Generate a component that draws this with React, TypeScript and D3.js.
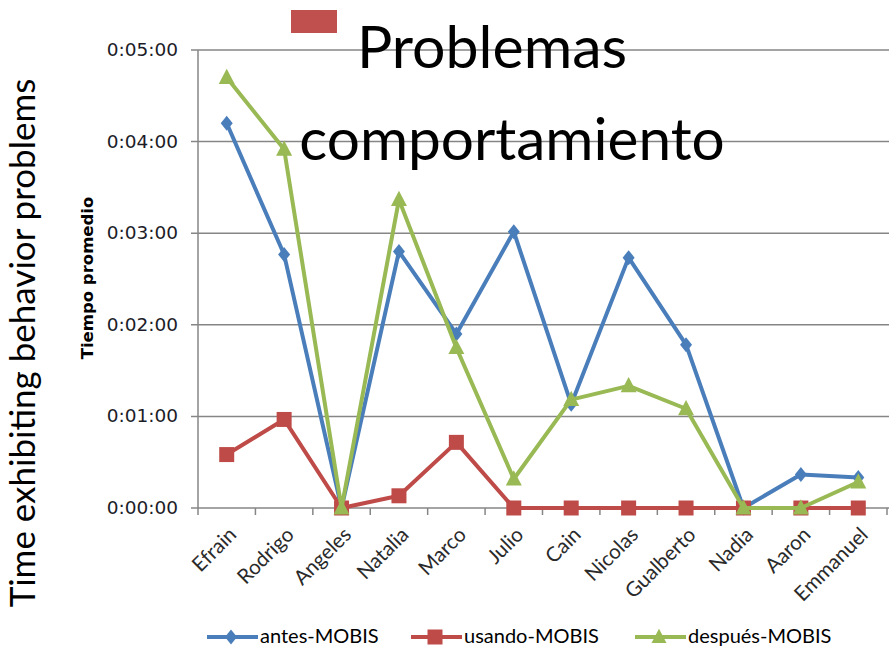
import React, { useRef, useEffect } from 'react';
import * as d3 from 'd3';

const categories = ['Efrain', 'Rodrigo', 'Angeles', 'Natalia', 'Marco', 'Julio', 'Cain', 'Nicolas', 'Gualberto', 'Nadia', 'Aaron', 'Emmanuel'];

// values in seconds
const antesMobis = [252, 166, 0, 168, 114, 181, 68, 164, 107, 0, 22, 20];
const usandoMobis = [35, 58, 0, 8, 43, 0, 0, 0, 0, 0, 0, 0];
const despuesMobis = [282, 235, 0, 202, 105, 19, 71, 80, 65, 0, 0, 17];

const yTicks = [0, 60, 120, 180, 240, 300];

const series = [
  { name: 'antes-MOBIS', values: antesMobis, color: '#4a7ebb', marker: 'diamond' },
  { name: 'usando-MOBIS', values: usandoMobis, color: '#be4b48', marker: 'square' },
  { name: 'después-MOBIS', values: despuesMobis, color: '#98b954', marker: 'triangle' },
];

const W = 893;
const H = 649;

function fmtTime(s: number): string {
  const m = Math.floor(s / 60);
  const sec = s % 60;
  return `0:${String(m).padStart(2, '0')}:${String(sec).padStart(2, '0')}`;
}

function markerPath(type: string, size: number): string {
  const h = size / 2;
  if (type === 'diamond') return `M0,${-h} L${h * 0.8},0 L0,${h} L${-h * 0.8},0 Z`;
  if (type === 'square') return `M${-h},${-h} H${h} V${h} H${-h} Z`;
  return `M0,${-h * 1.1} L${h},${h * 0.8} L${-h},${h * 0.8} Z`;
}

export default function App(): React.ReactElement {
  const svgRef = useRef<SVGSVGElement>(null);

  useEffect(() => {
    if (!svgRef.current) return;
    const svg = d3.select(svgRef.current);
    svg.selectAll('*').remove();

    const left = 198;
    const right = 887;
    const top = 50;
    const bottom = 508;

    const x = d3.scaleBand<string>().domain(categories).range([left, right]);
    const y = d3.scaleLinear().domain([0, 300]).range([bottom, top]);
    const cx = (c: string) => (x(c) ?? 0) + x.bandwidth() / 2;

    const grid = '#868686';

    // gridlines + y ticks
    const yg = svg.append('g');
    yTicks.forEach((t) => {
      yg.append('line')
        .attr('x1', left - 7).attr('x2', right + 2)
        .attr('y1', y(t)).attr('y2', y(t))
        .attr('stroke', grid).attr('stroke-width', 1.5);
      yg.append('text')
        .attr('x', 178).attr('y', y(t) + 6)
        .attr('text-anchor', 'end')
        .attr('font-family', '"DejaVu Sans", Verdana, sans-serif')
        .attr('font-size', '18.5px')
        .attr('fill', '#1c1c28')
        .text(fmtTime(t));
    });

    // y axis line
    svg.append('line')
      .attr('x1', left).attr('x2', left)
      .attr('y1', top).attr('y2', bottom)
      .attr('stroke', grid).attr('stroke-width', 1.5);

    // x tick marks at band boundaries
    const bounds = categories.map((c) => x(c) ?? 0).concat([right]);
    bounds.forEach((b) => {
      svg.append('line')
        .attr('x1', b).attr('x2', b)
        .attr('y1', bottom).attr('y2', bottom + 7)
        .attr('stroke', grid).attr('stroke-width', 1.5);
    });

    // x labels rotated
    categories.forEach((c) => {
      svg.append('text')
        .attr('transform', `translate(${cx(c) + 11},${bottom + 28}) rotate(-45)`)
        .attr('text-anchor', 'end')
        .attr('font-family', 'Lato, "Open Sans", sans-serif')
        .attr('font-size', '20.5px')
        .attr('fill', '#2a2a2a')
        .text(c);
    });

    // lines and markers
    series.forEach((s) => {
      const line = d3.line<number>()
        .x((_, i) => cx(categories[i]))
        .y((d) => y(d));
      svg.append('path')
        .attr('d', line(s.values) ?? '')
        .attr('fill', 'none')
        .attr('stroke', s.color)
        .attr('stroke-width', 4)
        .attr('stroke-linejoin', 'round');
      const size = s.marker === 'triangle' ? 16 : 15;
      s.values.forEach((v, i) => {
        svg.append('path')
          .attr('transform', `translate(${cx(categories[i])},${y(v)})`)
          .attr('d', markerPath(s.marker, size))
          .attr('fill', s.color);
      });
    });

    // Tiempo promedio label
    svg.append('text')
      .attr('transform', `translate(93,278) rotate(-90)`)
      .attr('text-anchor', 'middle')
      .attr('font-family', '"DejaVu Sans", Verdana, sans-serif')
      .attr('font-size', '16.5px')
      .attr('font-weight', 'bold')
      .attr('fill', '#000')
      .text('Tiempo promedio');

    // big left label
    svg.append('text')
      .attr('transform', `translate(35,343) rotate(-90)`)
      .attr('text-anchor', 'middle')
      .attr('font-family', 'Lato, "Open Sans", sans-serif')
      .attr('font-size', '35px')
      .attr('fill', '#000')
      .text('Time exhibiting behavior problems');

    // title with red square
    svg.append('rect')
      .attr('x', 291).attr('y', 10)
      .attr('width', 46).attr('height', 23)
      .attr('fill', '#c0504d');
    svg.append('text')
      .attr('x', 492).attr('y', 68)
      .attr('text-anchor', 'middle')
      .attr('font-family', 'Lato, "Open Sans", sans-serif')
      .attr('font-size', '59px')
      .attr('fill', '#000')
      .text('Problemas');
    svg.append('text')
      .attr('x', 512).attr('y', 160)
      .attr('text-anchor', 'middle')
      .attr('font-family', 'Lato, "Open Sans", sans-serif')
      .attr('font-size', '58.5px')
      .attr('fill', '#000')
      .text('comportamiento');

    // legend
    const legendX = [207, 411, 635];
    const ly = 637;
    series.forEach((s, i) => {
      const lx = legendX[i];
      svg.append('line')
        .attr('x1', lx).attr('x2', lx + 51)
        .attr('y1', ly).attr('y2', ly)
        .attr('stroke', s.color).attr('stroke-width', 4);
      svg.append('path')
        .attr('transform', `translate(${lx + 24},${ly})`)
        .attr('d', markerPath(s.marker, 15))
        .attr('fill', s.color);
      svg.append('text')
        .attr('x', lx + 53).attr('y', ly + 6)
        .attr('font-family', 'Lato, "Open Sans", sans-serif')
        .attr('font-size', '20px')
        .attr('fill', '#000')
        .text(s.name);
    });
  }, []);

  return (
    <svg
      ref={svgRef}
      width={W}
      height={H}
      style={{ position: 'absolute', left: 0, top: 0, background: '#fff' }}
    />
  );
}
